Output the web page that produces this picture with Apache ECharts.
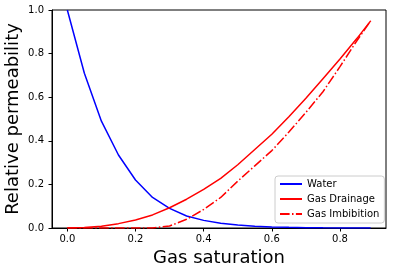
<!DOCTYPE html>
<html><head><meta charset="utf-8">
<script src="https://cdn.jsdelivr.net/npm/echarts@6/dist/echarts.min.js"></script>
<style>html,body{margin:0;padding:0;background:#fff}#c{width:394px;height:274px}</style>
</head><body><div id="c"></div>
<script>
const gasSat = [0,0.05,0.1,0.15,0.2,0.25,0.3,0.35,0.4,0.45,0.5,0.55,0.6,0.65,0.7,0.75,0.8,0.85,0.89];
const water = [1.0,0.71,0.49,0.335,0.22,0.14,0.09,0.055,0.035,0.022,0.014,0.008,0.005,0.003,0.0015,0.0007,0.0003,0.0001,0];
const gasDrainage = [0,0.002,0.008,0.02,0.037,0.06,0.093,0.132,0.177,0.228,0.29,0.36,0.43,0.51,0.595,0.685,0.775,0.87,0.95];
const gasImbibition = [0,0,0,0,0,0,0.009,0.04,0.085,0.14,0.215,0.285,0.355,0.44,0.53,0.625,0.74,0.86,0.95];
const xTicks = [0,0.2,0.4,0.6,0.8];
const yTicks = [0,0.2,0.4,0.6,0.8,1.0];

const pairs = ys => gasSat.map((x,i)=>[x, ys[i]]);
const font = 'DejaVu Sans';
const chart = echarts.init(document.getElementById('c'), null, {renderer:'canvas'});
chart.setOption({
  animation:false,
  backgroundColor:'#fff',
  grid:{left:52, top:10, right:8, bottom:46, containLabel:false, outerBoundsMode:'none', show:true, borderColor:'#000', borderWidth:1, backgroundColor:'transparent'},
  xAxis:{
    type:'value', min:-0.045, max:0.935,
    name:'Gas saturation', nameLocation:'middle', nameGap:21, nameMoveOverlap:false,
    nameTextStyle:{fontFamily:font, fontSize:18, color:'#000'},
    axisLine:{show:true, onZero:false, lineStyle:{color:'#000', width:1}},
    axisTick:{show:true, inside:false, length:3.5, lineStyle:{color:'#000'}, customValues:xTicks},
    axisLabel:{fontFamily:font, fontSize:10, color:'#000', margin:6, customValues:xTicks, formatter:v=>v.toFixed(1)},
    splitLine:{show:false}
  },
  yAxis:{
    type:'value', min:0, max:1, interval:0.2,
    name:'Relative permeability', nameLocation:'middle', nameGap:30, nameMoveOverlap:false,
    nameTextStyle:{fontFamily:font, fontSize:18, color:'#000'},
    axisLine:{show:true, onZero:false, lineStyle:{color:'#000', width:1}},
    axisTick:{show:true, inside:false, length:3.5, lineStyle:{color:'#000'}, customValues:yTicks},
    axisLabel:{fontFamily:font, fontSize:10, color:'#000', margin:8, customValues:yTicks, formatter:v=>v.toFixed(1)},
    splitLine:{show:false}
  },
  legend:{
    orient:'vertical', left:275, top:176,
    padding:[3,5,4,4], itemGap:5, itemWidth:22, itemHeight:10,
    borderColor:'#cccccc', borderWidth:1, borderRadius:3,
    backgroundColor:'rgba(255,255,255,0.8)',
    itemStyle:{opacity:0},
    textStyle:{fontFamily:font, fontSize:10, color:'#000'},
    data:['Water','Gas Drainage','Gas Imbibition']
  },
  series:[
    {name:'Water', type:'line', data:pairs(water), symbol:'none', lineStyle:{color:'#0000ff', width:1.5}, itemStyle:{color:'#0000ff'}},
    {name:'Gas Drainage', type:'line', data:pairs(gasDrainage), symbol:'none', lineStyle:{color:'#ff0000', width:1.5}, itemStyle:{color:'#ff0000'}},
    {name:'Gas Imbibition', type:'line', data:pairs(gasImbibition), symbol:'none', lineStyle:{color:'#ff0000', width:1.5, type:[9.6,2.4,1.5,2.4]}, itemStyle:{color:'#ff0000'}}
  ]
});
</script></body></html>
